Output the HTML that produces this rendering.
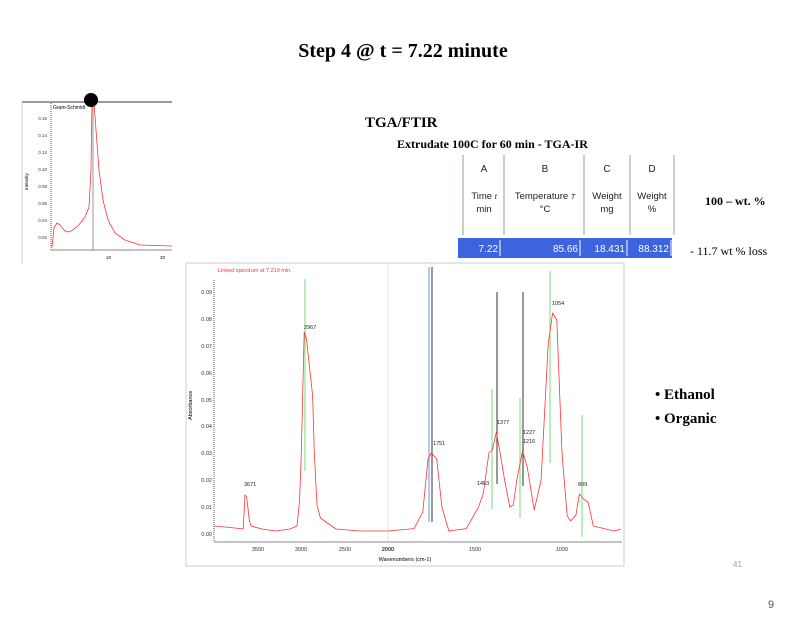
<!DOCTYPE html>
<html><head><meta charset="utf-8"><style>
body{margin:0;background:#fff;}
svg{display:block;font-family:"Liberation Sans",sans-serif;}
.s{font-family:"Liberation Serif",serif;}
</style></head><body>
<svg width="809" height="617" viewBox="0 0 809 617">
<rect width="809" height="617" fill="#fff"/>
<text x="403" y="57" class="s" font-size="20" font-weight="bold" text-anchor="middle">Step 4 @ t = 7.22 minute</text>
<text x="365" y="127" class="s" font-size="15" font-weight="bold">TGA/FTIR</text>
<text x="397" y="148" class="s" font-size="12" font-weight="bold">Extrudate 100C for 60 min - TGA-IR</text>

<!-- Gram-Schmidt -->
<rect x="22" y="101" width="150" height="163" fill="#fff"/>
<line x1="22" y1="102" x2="172" y2="102" stroke="#777" stroke-width="1.5"/>
<line x1="22" y1="102" x2="22" y2="264" stroke="#ccc"/>
<line x1="51" y1="103" x2="51" y2="250" stroke="#555" stroke-dasharray="1,1"/>
<line x1="51" y1="250" x2="172" y2="250" stroke="#888"/>
<text x="53" y="109" font-size="5">Gram-Schmidt</text>
<g font-size="4.5" fill="#333" text-anchor="end">
<text x="47" y="120">0.16</text><text x="47" y="137">0.14</text><text x="47" y="154">0.12</text><text x="47" y="171">0.10</text><text x="47" y="188">0.08</text><text x="47" y="205">0.06</text><text x="47" y="222">0.04</text><text x="47" y="239">0.02</text>
</g>
<text x="0" y="0" font-size="4.5" transform="translate(28,190) rotate(-90)">Intensity</text>
<text x="106" y="259" font-size="4.5">10</text><text x="160" y="259" font-size="4.5">20</text>
<line x1="93" y1="103" x2="93" y2="250" stroke="#999"/>
<polyline fill="none" stroke="#f33" stroke-width="0.8" points="52,247 54,228 57,223 60,225 65,231 70,232 78,226 85,217 89,207 91,170 92,102 94,102 96,130 99,170 103,200 108,220 115,233 125,240 140,245 172,246"/>
<circle cx="91" cy="100" r="7" fill="#000"/>

<!-- table -->
<g stroke="#c8d0c8" stroke-width="2">
<line x1="463" y1="155" x2="463" y2="235"/><line x1="504" y1="155" x2="504" y2="235"/><line x1="584" y1="155" x2="584" y2="235"/><line x1="630" y1="155" x2="630" y2="235"/><line x1="674" y1="155" x2="674" y2="235"/>
</g>
<g font-size="10" text-anchor="middle" fill="#222">
<text x="484" y="172">A</text><text x="545" y="172">B</text><text x="607" y="172">C</text><text x="652" y="172">D</text>
<text x="484" y="199" font-size="9.5">Time <tspan font-style="italic" font-size="7">t</tspan></text><text x="484" y="212" font-size="9.5">min</text>
<text x="545" y="199" font-size="9.5">Temperature <tspan font-style="italic" font-size="7">T</tspan></text><text x="545" y="212" font-size="9.5">°C</text>
<text x="607" y="199" font-size="9.5">Weight</text><text x="607" y="212" font-size="9.5">mg</text>
<text x="652" y="199" font-size="9.5">Weight</text><text x="652" y="212" font-size="9.5">%</text>
</g>
<rect x="458" y="238" width="214" height="20" fill="#3d63de"/>
<g stroke="#fff" stroke-width="1"><line x1="500" y1="240" x2="500" y2="256"/><line x1="580" y1="240" x2="580" y2="256"/><line x1="627" y1="240" x2="627" y2="256"/><line x1="671" y1="240" x2="671" y2="256"/></g>
<g font-size="10" fill="#fff" text-anchor="end">
<text x="498" y="252">7.22</text><text x="578" y="252">85.66</text><text x="625" y="252">18.431</text><text x="669" y="252">88.312</text>
</g>
<text x="705" y="205" class="s" font-size="12" font-weight="bold">100 – wt. %</text>
<text x="690" y="255" class="s" font-size="12">- 11.7 wt % loss</text>

<!-- spectrum -->
<rect x="186" y="263" width="438" height="303" fill="#fff" stroke="#ccc"/>
<line x1="214" y1="280" x2="214" y2="542" stroke="#555" stroke-dasharray="1,1"/>
<line x1="214" y1="542" x2="622" y2="542" stroke="#888"/>
<line x1="388" y1="264" x2="388" y2="542" stroke="#ccc" stroke-dasharray="1,1"/>
<text x="218" y="272" font-size="5.5" fill="#f33">Linked spectrum at 7.219 min.</text>
<g font-size="5.5" fill="#333" text-anchor="end">
<text x="212" y="294">0.09</text><text x="212" y="321">0.08</text><text x="212" y="348">0.07</text><text x="212" y="375">0.06</text><text x="212" y="402">0.05</text><text x="212" y="428">0.04</text><text x="212" y="455">0.03</text><text x="212" y="482">0.02</text><text x="212" y="509">0.01</text><text x="212" y="536">0.00</text>
</g>
<g font-size="5.5" fill="#333" text-anchor="middle">
<text x="258" y="551">3500</text><text x="301" y="551">3000</text><text x="345" y="551">2500</text><text x="388" y="551" font-weight="bold">2000</text><text x="475" y="551">1500</text><text x="562" y="551">1000</text>
</g>
<text x="405" y="561" font-size="5.5" text-anchor="middle">Wavenumbers (cm-1)</text>
<text x="0" y="0" font-size="5.5" transform="translate(192,420) rotate(-90)">Absorbance</text>
<g stroke-width="1">
<line x1="305" y1="279" x2="305" y2="471" stroke="#7d7"/>
<line x1="429" y1="267" x2="429" y2="522" stroke="#69d"/>
<line x1="432" y1="267" x2="432" y2="522" stroke="#333"/>
<line x1="497" y1="292" x2="497" y2="484" stroke="#333"/>
<line x1="523" y1="292" x2="523" y2="486" stroke="#333"/>
<line x1="492" y1="389" x2="492" y2="509" stroke="#7d7"/>
<line x1="520" y1="398" x2="520" y2="518" stroke="#7d7"/>
<line x1="550" y1="271" x2="550" y2="463" stroke="#7d7"/>
<line x1="582" y1="415" x2="582" y2="537" stroke="#7d7"/>
</g>
<polyline fill="none" stroke="#f33" stroke-width="0.8" stroke-linejoin="round" points="214.6,526 225,527 240.6,528.6 243.2,529 245,495 246.7,497 249.3,520 251,526 262,529 275.3,531 290,529 297,526 299.6,500 301.3,453 304.2,332 306.5,339 310,372 312.6,395 314.3,453 317,505 320.4,518 336,529 360,531 388,531 414.1,528.6 422.8,512 428,459 431.3,453 436.7,459 441.9,507 448.9,531 466.3,528.6 478.5,507 483.2,494 488.9,453 492.4,450 496.4,432 501.1,459 504.6,480 509.8,507 513.3,505 516.8,480 522.5,451 527.2,467 534.2,510 541.1,480 548.1,345 552.6,313 556.8,320 562,453 567.2,516 570.7,521 575.9,515 579.4,494 584.6,500 588.1,502 593.3,526 614.2,531 621,529"/>
<g font-size="5.5" fill="#222">
<text x="244" y="486">3671</text><text x="304" y="329">2967</text><text x="433" y="445">1751</text><text x="477" y="485">1453</text><text x="497" y="424">1377</text><text x="523" y="434">1227</text><text x="523" y="443">1216</text><text x="552" y="305">1054</text><text x="578" y="486">899</text>
</g>

<g class="s" font-size="15" font-weight="bold">
<text x="655" y="399">• Ethanol</text><text x="655" y="423">• Organic</text>
</g>
<text x="733" y="567" font-size="8" fill="#999">41</text>
<text x="768" y="608" font-size="11" fill="#555">9</text>
</svg>
</body></html>
